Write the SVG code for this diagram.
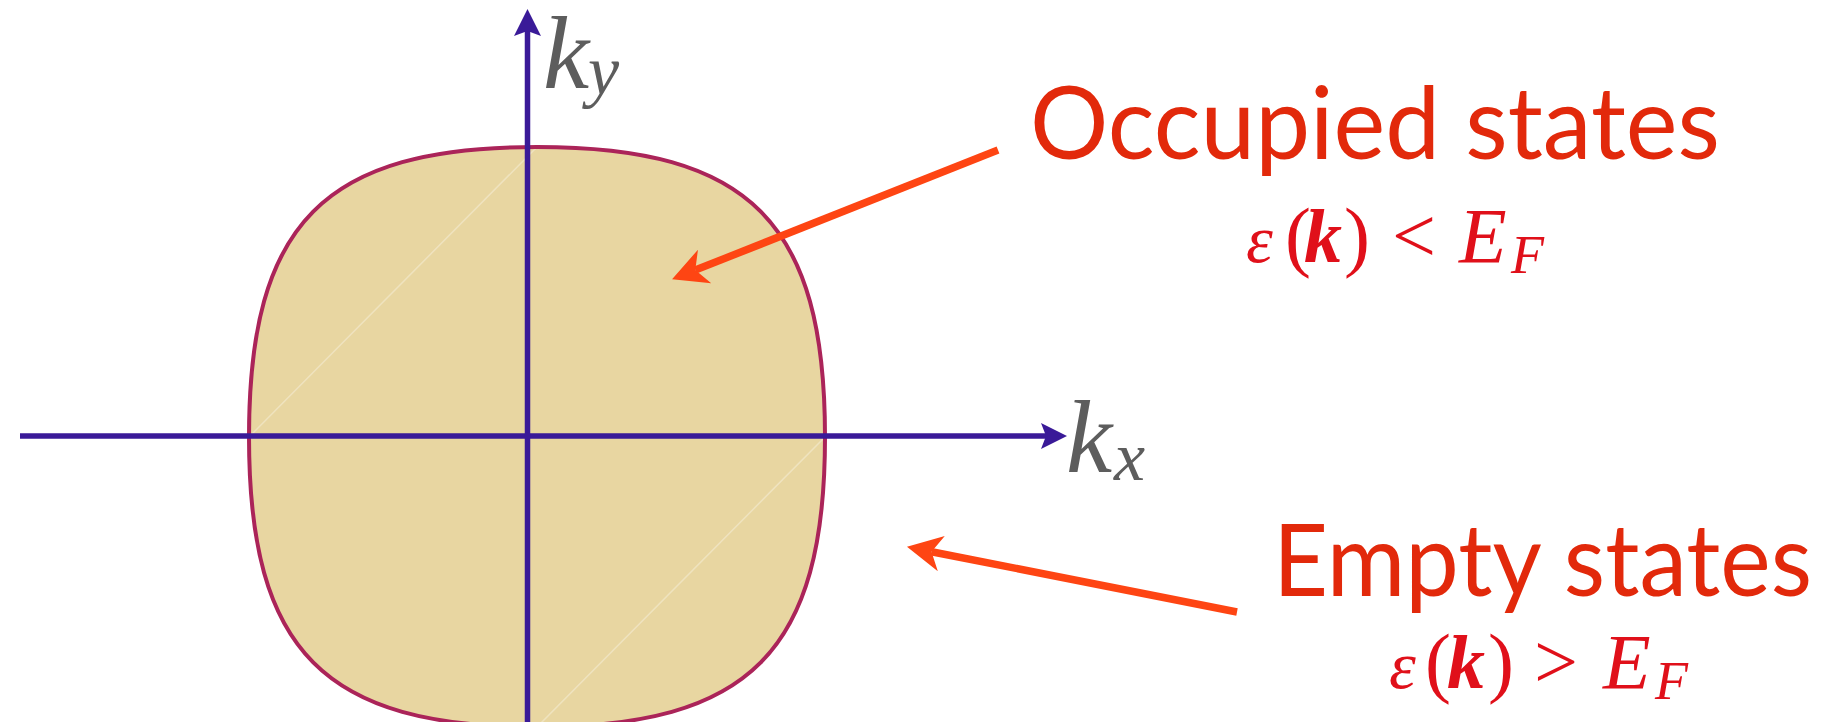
<svg xmlns="http://www.w3.org/2000/svg" width="1848" height="722" viewBox="0 0 1848 722">
<style>
.axis{stroke:#3a1a98;stroke-width:5.5;fill:none}
.axhead{fill:#3a1a98}
.ptr{stroke:#fe4513;stroke-width:7.5;fill:none}
.big{font-family:Lato,"Open Sans","Liberation Sans",sans-serif;font-size:100px;fill:#e2290b}
.kl{font-family:"Liberation Serif",serif;font-style:italic;fill:#5d5d5d}
.m{font-family:"Liberation Serif",serif;font-size:78px;fill:#e0101a}
.eps{font-style:italic;font-size:68px}
.it{font-style:italic}
.bi{font-style:italic;font-weight:bold;font-size:76px}
.sub{font-style:italic;font-size:54px}
</style>
<defs>
<marker id="ptrHead" markerUnits="userSpaceOnUse" markerWidth="80" markerHeight="80" refX="0" refY="0" orient="auto" overflow="visible">
<path d="M25,0 L-10,-18 L0,0 L-10,18 Z" fill="#fe4513"/>
</marker>
</defs>
<rect width="1848" height="722" fill="#ffffff"/>
<g id="fermi-surface">
<path d="M825,437 C825,222.7 749.8,147 537,147 C324.2,147 249,222.7 249,437 C249,651.3 324.2,727 537,727 C749.8,727 825,651.3 825,437 Z" fill="#e8d6a1"/>
<line x1="537" y1="147" x2="249" y2="437" stroke="#efe3bf" stroke-width="1.5"/>
<line x1="825" y1="437" x2="537" y2="727" stroke="#efe3bf" stroke-width="1.5"/>
<path d="M825,437 C825,222.7 749.8,147 537,147 C324.2,147 249,222.7 249,437 C249,651.3 324.2,727 537,727 C749.8,727 825,651.3 825,437 Z" fill="none" stroke="#ab2459" stroke-width="4"/>
</g>
<g id="axes">
<line class="axis" x1="20" y1="436" x2="1050" y2="436"/>
<path class="axhead" d="M1067,436 L1041,423 L1046,436 L1041,449 Z"/>
<line class="axis" x1="527.5" y1="722" x2="527.5" y2="28"/>
<path class="axhead" d="M527.5,9 L514,36 L527.5,31 L541,36 Z"/>
</g>
<g id="label-ky">
<text class="kl" x="543" y="88" font-size="104">k</text>
<text class="kl" x="588" y="94" font-size="70">y</text>
</g>
<g id="label-kx">
<text class="kl" x="1066" y="472" font-size="104">k</text>
<text class="kl" x="1114" y="480" font-size="70">x</text>
</g>
<g id="connectors">
<line class="ptr" x1="998" y1="150" x2="695.3" y2="270.1" marker-end="url(#ptrHead)"/>
<line class="ptr" x1="1237" y1="612" x2="931.5" y2="551.7" marker-end="url(#ptrHead)"/>
</g>
<g id="occupied">
<text class="big" x="1030" y="159" textLength="690" lengthAdjust="spacingAndGlyphs">Occupied states</text>
<text class="m" y="262"><tspan class="eps" x="1246">ε</tspan><tspan x="1285">(</tspan><tspan class="bi" x="1304">k</tspan><tspan x="1344">)</tspan><tspan x="1392">&lt;</tspan><tspan class="it" x="1459">E</tspan><tspan class="sub" x="1511" dy="11">F</tspan></text>
</g>
<g id="empty">
<text class="big" x="1273" y="596" textLength="539" lengthAdjust="spacingAndGlyphs">Empty states</text>
<text class="m" y="688"><tspan class="eps" x="1389">ε</tspan><tspan x="1425">(</tspan><tspan class="bi" x="1447">k</tspan><tspan x="1488">)</tspan><tspan x="1534">&gt;</tspan><tspan class="it" x="1603">E</tspan><tspan class="sub" x="1655" dy="11">F</tspan></text>
</g>
</svg>
